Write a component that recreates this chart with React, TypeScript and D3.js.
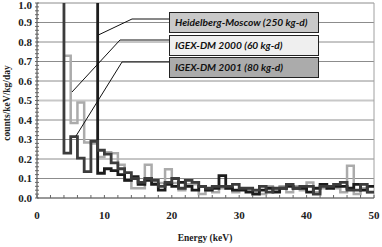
import React from 'react';
import * as d3 from 'd3';

// bins are 1 keV wide; first value belongs to bin [start, start+1]
const hmStart = 8;
const hmValues = [1.5, 0.127, 0.15, 0.14, 0.12, 0.09, 0.11, 0.07, 0.09, 0.07, 0.04, 0.07, 0.06, 0.08, 0.06, 0.04, 0.06, 0.04, 0.05, 0.115, 0.05, 0.04, 0.04, 0.03, 0.02, 0.04, 0.05, 0.03, 0.05, 0.06, 0.05, 0.05, 0.03, 0.05, 0.07, 0.05, 0.06, 0.06, 0.05, 0.07, 0.04, 0.06];

const igex00Start = 4;
const igex00Values = [0.73, 0.385, 0.49, 0.285, 0.28, 0.21, 0.235, 0.23, 0.17, 0.09, 0.05, 0.05, 0.17, 0.077, 0.077, 0.147, 0.077, 0.04, 0.07, 0.07, 0.02, 0.04, 0.03, 0.05, 0.05, 0.03, 0.05, 0.04, 0.03, 0.02, 0.06, 0.04, 0.06, 0.03, 0.06, 0.04, 0.08, 0.03, 0.05, 0.06, 0.05, 0.03, 0.165, 0.02, 0.05, 0.03];

const igex01Start = 3;
const igex01Values = [1.5, 0.23, 0.315, 0.205, 0.135, 0.29, 0.245, 0.225, 0.18, 0.15, 0.13, 0.1, 0.08, 0.1, 0.09, 0.06, 0.08, 0.1, 0.05, 0.09, 0.08, 0.06, 0.05, 0.06, 0.06, 0.06, 0.07, 0.05, 0.05, 0.04, 0.06, 0.03, 0.05, 0.05, 0.07, 0.05, 0.06, 0.06, 0.02, 0.06, 0.06, 0.07, 0.08, 0.04, 0.04, 0.07, 0.03];

const yTicks = [0, 0.1, 0.2, 0.3, 0.4, 0.5, 0.6, 0.7, 0.8, 0.9, 1.0];
const xTicks = [0, 10, 20, 30, 40, 50];
const legendLabels = ['Heidelberg-Moscow (250 kg-d)', 'IGEX-DM 2000 (60 kg-d)', 'IGEX-DM 2001 (80 kg-d)'];
const legendFills = ['#c9c9c9', '#efefef', '#ababab'];

const W = 382, H = 247;
const x = d3.scaleLinear().domain([0, 50]).range([37, 374]);
const y = d3.scaleLinear().domain([0, 1]).range([198, 3]);

const toPts = (start: number, vals: number[]) => {
  const pts = vals.map((v, i) => [start + i, v] as [number, number]);
  pts.push([start + vals.length, vals[vals.length - 1]]);
  return pts;
};

const step = d3.line<[number, number]>()
  .x(d => x(d[0]))
  .y(d => y(d[1]))
  .curve(d3.curveStepAfter);

const serif = '"Liberation Serif", "Times New Roman", serif';

export default function App() {
  const minorY = d3.range(0, 1.0001, 0.02);
  const minorX = d3.range(0, 50.001, 2);
  return (
    <svg width={W} height={H} style={{ position: 'absolute', left: 0, top: 0, background: '#fff' }}>
      <defs>
        <clipPath id="plot">
          <rect x={x(0)} y={y(1)} width={x(50) - x(0)} height={y(0) - y(1)} />
        </clipPath>
      </defs>

      {/* grid */}
      {yTicks.slice(1).map(t => (
        <line key={t} x1={x(0)} x2={x(50)} y1={y(t)} y2={y(t)}
          stroke={t === 0.5 ? '#c8c8c8' : '#8c8c8c'} strokeWidth={t === 0.5 ? 2 : 1} />
      ))}
      <line x1={x(50)} x2={x(50)} y1={y(1)} y2={y(0)} stroke="#a0a0a0" strokeWidth={1} />

      {/* series */}
      <g clipPath="url(#plot)" fill="none">
        <path d={step(toPts(igex00Start, igex00Values)) || ''} stroke="#ababab" strokeWidth={2.5} />
        <path d={step(toPts(hmStart, hmValues)) || ''} stroke="#1c1c1c" strokeWidth={2.8} />
        <path d={step(toPts(igex01Start, igex01Values)) || ''} stroke="#3c3c3c" strokeWidth={2.8} />
      </g>

      {/* axes */}
      <line x1={x(0)} x2={x(0)} y1={y(1)} y2={y(0)} stroke="#333" />
      <line x1={x(0)} x2={x(50)} y1={y(0)} y2={y(0)} stroke="#333" />
      {minorY.map((t, i) => (
        <line key={i} x1={x(0) - 2} x2={x(0) + 2} y1={y(t)} y2={y(t)} stroke="#666" />
      ))}
      {minorX.map((t, i) => (
        <line key={i} x1={x(t)} x2={x(t)} y1={y(0)} y2={y(0) - 3} stroke="#666" />
      ))}
      {yTicks.map(t => (
        <text key={t} x={32} y={Math.max(y(t) + 3.8, 8.5)} textAnchor="end"
          fontFamily={serif} fontWeight="bold" fontSize={11} fill="#222">{t.toFixed(1)}</text>
      ))}
      {xTicks.map(t => (
        <text key={t} x={x(t)} y={218.5} textAnchor="middle"
          fontFamily={serif} fontWeight="bold" fontSize={11} fill="#222">{t}</text>
      ))}
      <text x={205} y={241} textAnchor="middle" fontFamily={serif} fontWeight="bold" fontSize={9.5} fill="#222">Energy (keV)</text>
      <text transform="translate(10,103) rotate(-90)" textAnchor="middle" fontFamily={serif}
        fontWeight="bold" fontSize={9.5} fill="#222">counts/keV/kg/day</text>

      {/* leader lines */}
      <polyline points={`${x(9.1)},35 132,19 169,19`} fill="none" stroke="#111" strokeWidth={1} />
      <line x1={120} x2={169} y1={40} y2={40} stroke="#888" strokeWidth={2} />
      <line x1={72} y1={92} x2={120} y2={40} stroke="#111" strokeWidth={1} />
      <polyline points={`76,136 122,62 169,62`} fill="none" stroke="#111" strokeWidth={1} />

      {/* legend */}
      {legendLabels.map((l, i) => {
        const top = [12, 35, 57][i];
        return (
          <g key={l}>
            <rect x={169.5} y={top + 0.5} width={149} height={20} fill={legendFills[i]} stroke="#222" strokeWidth={1} />
            <text x={175} y={top + 14} fontFamily="Lato, 'Open Sans', sans-serif" fontStyle="italic"
              fontWeight="bold" fontSize={10.2} fill="#111">{l}</text>
          </g>
        );
      })}
    </svg>
  );
}
